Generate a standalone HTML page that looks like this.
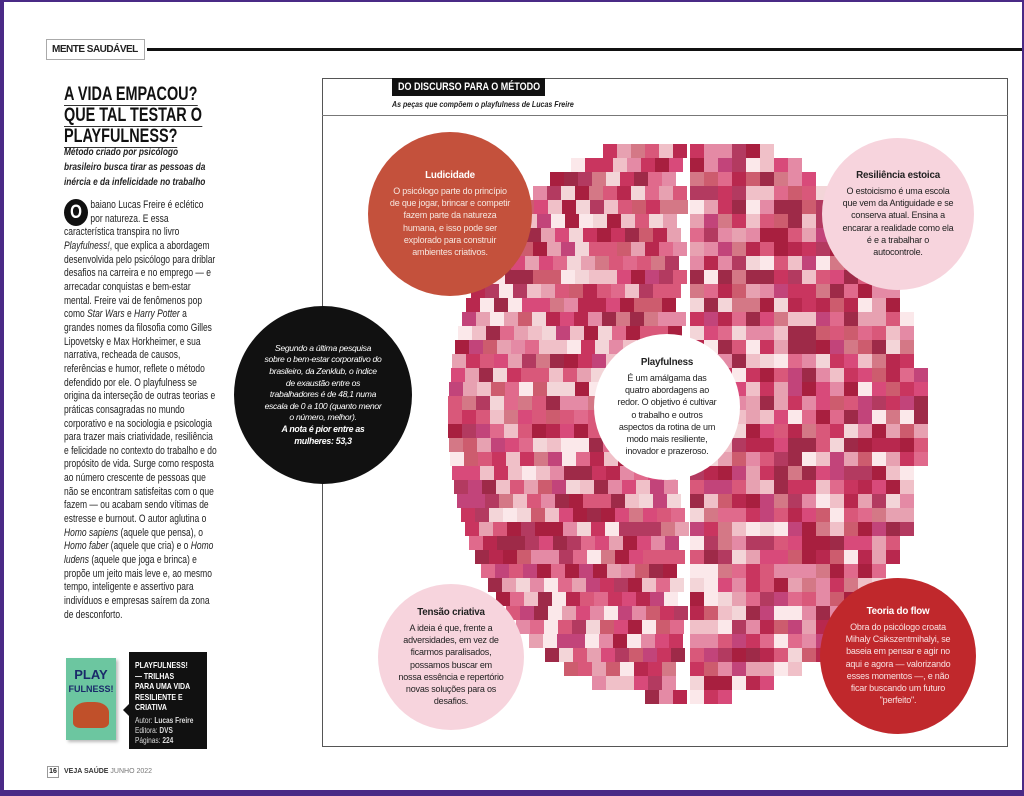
<!DOCTYPE html>
<html><head><meta charset="utf-8">
<style>
*{margin:0;padding:0;box-sizing:border-box}
html,body{width:1024px;height:796px;overflow:hidden;background:#4a2a86}
#pg{position:absolute;left:4px;top:2px;width:1018px;height:788px;background:#fff;font-family:"Liberation Sans",sans-serif;color:#222}
.abs{position:absolute}
.sx{transform-origin:left top}
.c{position:absolute;border-radius:50%;text-align:center;font-size:9px;line-height:12.2px;display:flex;flex-direction:column;justify-content:center;align-items:center;padding:0 20px;letter-spacing:-0.2px}
.c b{font-size:9.8px;margin-bottom:3px}
</style></head><body>
<div id="pg">
 <div class="abs" style="left:42px;top:37px;width:99px;height:21px;border:1px solid #aaa;font-weight:bold;font-size:10px;padding:4px 0 0 5px;white-space:nowrap;letter-spacing:-0.5px">MENTE SAUDÁVEL</div>
 <div class="abs" style="left:143px;top:46px;width:875px;height:3px;background:#111"></div>
 <div class="abs sx" style="left:60px;top:82px;font-weight:bold;font-size:19px;line-height:21px;color:#111;white-space:nowrap;transform:scaleX(.76)">
  <span style="border-bottom:1px solid #333">A VIDA EMPACOU?</span><br><span style="border-bottom:1px solid #333">QUE TAL TESTAR O</span><br><span style="border-bottom:1px solid #333">PLAYFULNESS?</span></div>
 <div class="abs sx" style="left:60px;top:143px;width:200px;font-style:italic;font-weight:bold;font-size:10.4px;line-height:15px;transform:scaleX(.8)">Método criado por psicólogo<br>brasileiro busca tirar as pessoas da<br>inércia e da infelicidade no trabalho</div>
 <div class="abs sx" style="left:60px;top:197px;width:192px;font-size:10.6px;line-height:13.65px;transform:scaleX(.8)"><span style="float:left;width:30px;height:27px;border-radius:50%;background:#111;color:#fff;font-weight:bold;font-size:19px;text-align:center;line-height:27px;margin:0 3px 0 0">O</span>baiano Lucas Freire é eclético por natureza. E essa característica transpira no livro <i>Playfulness!</i>, que explica a abordagem desenvolvida pelo psicólogo para driblar desafios na carreira e no emprego — e arrecadar conquistas e bem-estar mental. Freire vai de fenômenos pop como <i>Star Wars</i> e <i>Harry Potter</i> a grandes nomes da filosofia como Gilles Lipovetsky e Max Horkheimer, e sua narrativa, recheada de causos, referências e humor, reflete o método defendido por ele. O playfulness se origina da interseção de outras teorias e práticas consagradas no mundo corporativo e na sociologia e psicologia para trazer mais criatividade, resiliência e felicidade no contexto do trabalho e do propósito de vida. Surge como resposta ao número crescente de pessoas que não se encontram satisfeitas com o que fazem — ou acabam sendo vítimas de estresse e burnout. O autor aglutina o <i>Homo sapiens</i> (aquele que pensa), o <i>Homo faber</i> (aquele que cria) e o <i>Homo ludens</i> (aquele que joga e brinca) e propõe um jeito mais leve e, ao mesmo tempo, inteligente e assertivo para indivíduos e empresas saírem da zona de desconforto.</div>
 <!-- book -->
 <div class="abs" style="left:62px;top:656px;width:50px;height:82px;background:#6cc6a0;box-shadow:2px 2px 3px #bbb;text-align:center;color:#1a2a6a;font-weight:bold;font-size:13px;line-height:13px;padding-top:10px">PLAY<br><span style="font-size:9px">FULNESS!</span><div style="margin:6px auto 0;width:36px;height:26px;background:#c0502a;border-radius:40% 40% 20% 20%"></div></div>
 <div class="abs" style="left:125px;top:650px;width:78px;height:97px;background:#111;color:#fff">
  <div style="position:absolute;left:-6px;top:52px;border:6px solid transparent;border-left:0;border-right-color:#111"></div>
  <div class="sx" style="position:absolute;left:6px;top:8px;width:82px;font-size:8.5px;line-height:10.5px;transform:scaleX(.82)"><b>PLAYFULNESS!<br>— TRILHAS<br>PARA UMA VIDA<br>RESILIENTE E<br>CRIATIVA</b><div style="margin-top:3px;color:#ddd;font-size:8px;line-height:10px;white-space:nowrap">Autor: <b>Lucas Freire</b><br>Editora: <b>DVS</b><br>Páginas: <b>224</b></div></div></div>
 <div class="abs" style="left:43px;top:764px;width:12px;height:12px;border:1px solid #999;font-size:7px;font-weight:bold;text-align:center;line-height:10px">16</div>
 <div class="abs" style="left:60px;top:766px;font-size:7px;font-weight:bold;color:#333">VEJA SAÚDE <span style="font-weight:normal;color:#777">JUNHO 2022</span></div>
 <!-- right box -->
 <div class="abs" style="left:318px;top:76px;width:686px;height:669px;border:1px solid #555"></div>
 <div class="abs" style="left:318px;top:113px;width:686px;height:1px;background:#777"></div>
 <div class="abs" style="left:388px;top:76px;width:153px;height:18px;background:#111"></div>
 <div class="abs sx" style="left:394px;top:79px;color:#fff;font-weight:bold;font-size:11px;white-space:nowrap;transform:scaleX(.82)">DO DISCURSO PARA O MÉTODO</div>
 <div class="abs sx" style="left:388px;top:97px;font-style:italic;font-weight:bold;font-size:8.3px;color:#222;white-space:nowrap;transform:scaleX(.85)">As peças que compõem o playfulness de Lucas Freire</div>
 <div id="brain" class="abs" style="left:0;top:0"></div>
 <div class="c" style="left:364px;top:130px;width:164px;height:164px;background:#c4513c;color:#f6e6df"><b style="color:#fff">Ludicidade</b>O psicólogo parte do princípio de que jogar, brincar e competir fazem parte da natureza humana, e isso pode ser explorado para construir ambientes criativos.</div>
 <div class="c" style="left:818px;top:136px;width:152px;height:152px;background:#f7d4dd"><b>Resiliência estoica</b>O estoicismo é uma escola que vem da Antiguidade e se conserva atual. Ensina a encarar a realidade como ela é e a trabalhar o autocontrole.</div>
 <div class="c" style="left:590px;top:332px;width:146px;height:146px;background:#fff;padding:0 22px"><b>Playfulness</b>É um amálgama das quatro abordagens ao redor. O objetivo é cultivar o trabalho e outros aspectos da rotina de um modo mais resiliente, inovador e prazeroso.</div>
 <div class="c" style="left:374px;top:582px;width:146px;height:146px;background:#f7d4dd"><b>Tensão criativa</b>A ideia é que, frente a adversidades, em vez de ficarmos paralisados, possamos buscar em nossa essência e repertório novas soluções para os desafios.</div>
 <div class="c" style="left:816px;top:576px;width:156px;height:156px;background:#c0282c;color:#f8e0e0;padding:0 18px"><b style="color:#fff">Teoria do flow</b>Obra do psicólogo croata Mihaly Csikszentmihalyi, se baseia em pensar e agir no aqui e agora — valorizando esses momentos —, e não ficar buscando um futuro "perfeito".</div>
 <div class="abs" style="left:258px;top:330px;width:0;height:0;border-style:solid;border-width:0 0 30px 30px;border-color:transparent transparent #111 transparent;transform:rotate(-20deg)"></div>
 <div class="c" style="left:230px;top:304px;width:178px;height:178px;background:#111;color:#fff;font-style:italic;padding:0 30px;font-size:8.6px;line-height:11.6px;letter-spacing:-0.3px">Segundo a última pesquisa sobre o bem-estar corporativo do brasileiro, da Zenklub, o índice de exaustão entre os trabalhadores é de 48,1 numa escala de 0 a 100 (quanto menor o número, melhor). <b style="margin:0;font-size:8.8px">A nota é pior entre as mulheres: 53,3</b></div>
</div>
<script>
(function(){
var b=document.getElementById('brain'),cols=['#c9355f','#d84a7a','#e7a1b1','#b8284e','#f3d5d8','#e06a8c','#a81f3f','#d9587a','#f0c0c8','#c2447a','#e48aa5','#9e2a48','#d47886','#fbe8ea','#b33a60','#cd5c6e'];
var s=1;function r(){s=(s*16807)%2147483647;return s/2147483647;}
var h='',cw=14,ch=14;
for(var y=128;y<690;y+=ch){
 var t=(y-410)/280; var w=Math.sqrt(Math.max(0,1-t*t*t*t));
 var half=Math.round(228*w*(0.9+0.1*Math.cos(t*3)));
 var L=672-half, R=686+half;
 for(var x=L;x<672;x+=cw){h+='<div style="position:absolute;left:'+x+'px;top:'+y+'px;width:'+cw+'px;height:'+ch+'px;background:'+cols[Math.floor(r()*cols.length)]+'"></div>';}
 for(var x=686;x<R;x+=cw){h+='<div style="position:absolute;left:'+x+'px;top:'+y+'px;width:'+cw+'px;height:'+ch+'px;background:'+cols[Math.floor(r()*cols.length)]+'"></div>';}
}
b.innerHTML=h;
})();
</script>
</body></html>
